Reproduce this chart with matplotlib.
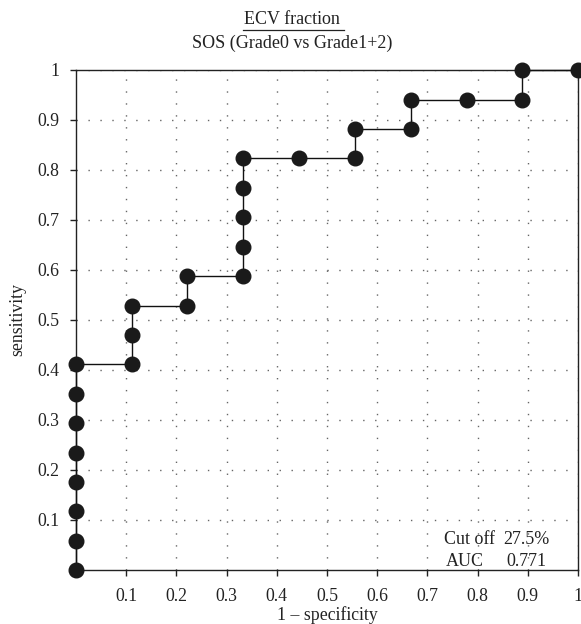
import matplotlib
matplotlib.use("Agg")
import matplotlib.pyplot as plt

fpr = [0.0, 0.0, 0.0, 0.0, 0.0, 0.0, 0.0, 0.0,
       0.111, 0.111, 0.111, 0.222, 0.222,
       0.333, 0.333, 0.333, 0.333, 0.333,
       0.444, 0.556, 0.556, 0.667, 0.667, 0.778, 0.889, 0.889, 1.0]
tpr = [0.0, 0.059, 0.118, 0.176, 0.235, 0.294, 0.353, 0.412,
       0.412, 0.471, 0.529, 0.529, 0.588,
       0.588, 0.647, 0.706, 0.765, 0.824,
       0.824, 0.824, 0.882, 0.882, 0.941, 0.941, 0.941, 1.0, 1.0]
ticks = [0.1, 0.2, 0.3, 0.4, 0.5, 0.6, 0.7, 0.8, 0.9, 1.0]
tick_labels = ["0.1", "0.2", "0.3", "0.4", "0.5", "0.6", "0.7", "0.8", "0.9", "1"]

plt.rcParams['font.family'] = ['Liberation Serif', 'DejaVu Serif']

fig = plt.figure(figsize=(5.81, 6.24), dpi=100)
ax = fig.add_axes([76/581, 1-570/624, (578-76)/581, 500/624])

ax.plot(fpr, tpr, color='#111111', lw=1.0, marker='o', markersize=10.5,
        markerfacecolor='#1a1a1a', markeredgecolor='#1a1a1a', clip_on=False, zorder=3)

ax.set_xlim(0, 1)
ax.set_ylim(0, 1)
ax.set_xticks(ticks)
ax.set_xticklabels(tick_labels)
ax.set_yticks(ticks)
ax.set_yticklabels(tick_labels)
ax.tick_params(axis='both', direction='out', length=4, width=1, labelsize=12.8, colors='#222222')
ax.tick_params(axis='x', pad=9)
ax.tick_params(axis='y', pad=8)
ax.grid(True, color='#666666', linestyle=(0, (1, 7.6)), linewidth=1.0)
for s in ax.spines.values():
    s.set_linewidth(1.0)
    s.set_color('#222222')

ax.set_xlabel("1 – specificity", fontsize=12.8, labelpad=1, color='#222222')
ax.set_ylabel("sensitivity", fontsize=12.8, labelpad=8, color='#222222')

fig.text(0.503, 1-20/624, "ECV fraction", ha='center', va='center', fontsize=13, color='#222222')
# underline
fig.add_artist(plt.Line2D([243/581, 344/581], [1-30/624, 1-30/624], color='#222222', lw=0.9))
fig.text(0.503, 1-43/624, "SOS (Grade0 vs Grade1+2)", ha='center', va='center', fontsize=13, color='#222222')

ax.text(0.733, 0.061, "Cut off", ha='left', va='center', fontsize=13, color='#222222', transform=ax.transAxes)
ax.text(0.943, 0.061, "27.5%", ha='right', va='center', fontsize=13, color='#222222', transform=ax.transAxes)
ax.text(0.737, 0.017, "AUC", ha='left', va='center', fontsize=13, color='#222222', transform=ax.transAxes)
ax.text(0.937, 0.017, "0.771", ha='right', va='center', fontsize=13, color='#222222', transform=ax.transAxes)

fig.savefig("out.png", dpi=100)
